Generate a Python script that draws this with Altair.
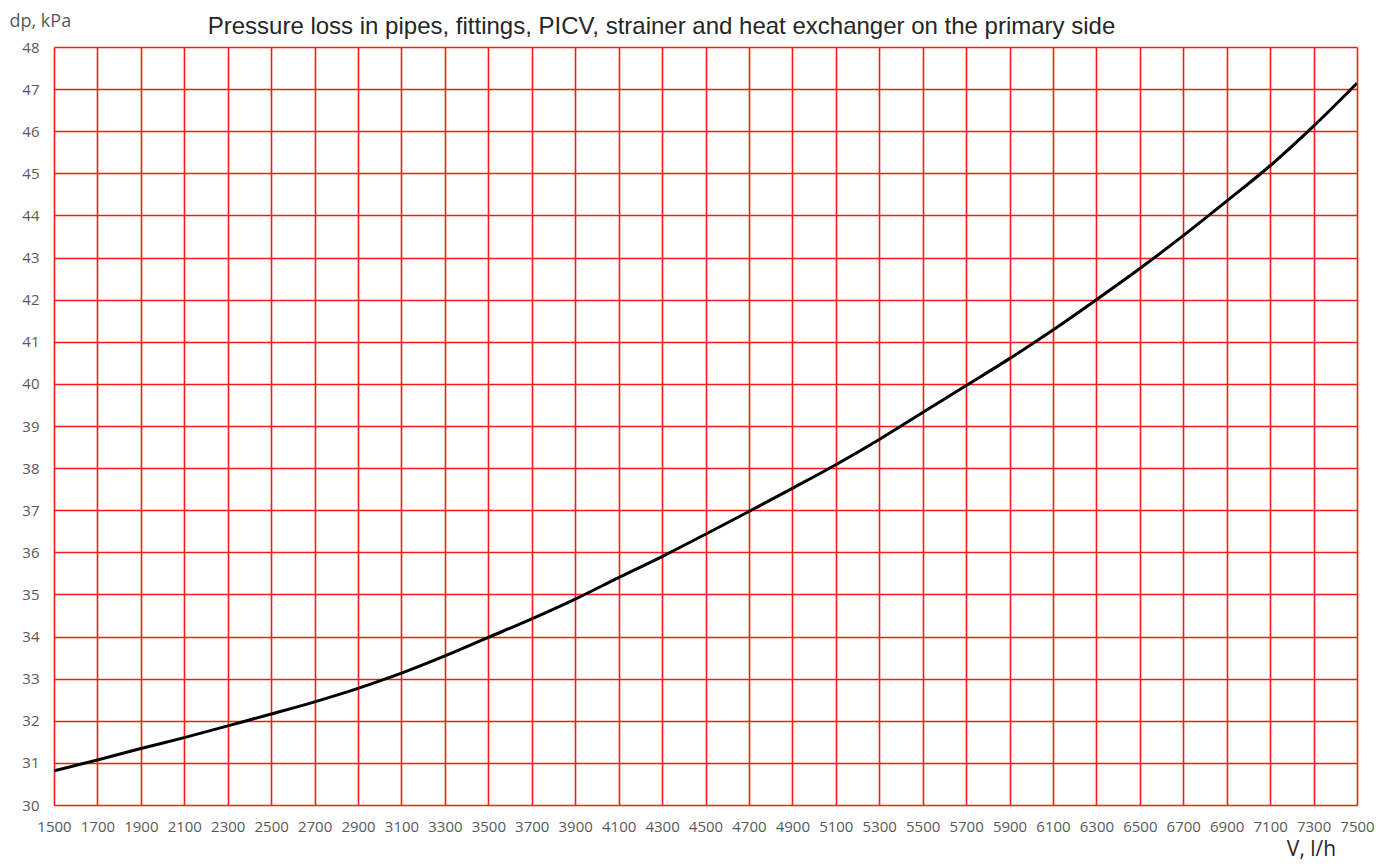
import altair as alt
import pandas as pd

flow = [1500, 1700, 1900, 2100, 2300, 2500, 2700, 2900, 3100, 3300, 3500,
        3700, 3900, 4100, 4300, 4500, 4700, 4900, 5100, 5300, 5500, 5700,
        5900, 6100, 6300, 6500, 6700, 6900, 7100, 7300, 7500]
dp = [30.81, 31.07, 31.34, 31.60, 31.88, 32.16, 32.45, 32.77, 33.13, 33.54, 33.98,
      34.42, 34.89, 35.40, 35.90, 36.43, 36.97, 37.52, 38.08, 38.68, 39.32, 39.96,
      40.60, 41.28, 42.00, 42.74, 43.52, 44.34, 45.18, 46.12, 47.14]
x_ticks = list(range(1500, 7501, 200))
y_ticks = list(range(30, 49, 1))

df = pd.DataFrame({"V": flow, "dp": dp})

chart = alt.Chart(df).mark_line(
    color="black", strokeWidth=3, interpolate="monotone", clip=True
).encode(
    x=alt.X("V:Q", scale=alt.Scale(domain=[1500, 7500], nice=False, zero=False),
            axis=alt.Axis(values=x_ticks, title="V, l/h", format="d",
                          labelFont="Open Sans", labelFontSize=15, labelColor="#595959",
                          labelPadding=14, ticks=False, domain=False,
                          labelFlush=False, labelBound=False,
                          grid=True, gridColor="#ff1a1a", gridWidth=1.6,
                          labelOverlap=False,
                          titleFont="Open Sans", titleFontSize=21, titleFontWeight="normal",
                          titleColor="#262626", titleX=1257, titleY=50,
                          titleAlign="center", titleBaseline="alphabetic")),
    y=alt.Y("dp:Q", scale=alt.Scale(domain=[30, 48], nice=False, zero=False),
            axis=alt.Axis(values=y_ticks, title="dp, kPa", format="d",
                          labelFont="Open Sans", labelFontSize=15, labelColor="#595959",
                          labelPadding=15, ticks=False, domain=False,
                          labelFlush=False, labelBound=False,
                          grid=True, gridColor="#ff1a1a", gridWidth=1.6,
                          labelOverlap=False,
                          titleFont="Open Sans", titleFontSize=18, titleFontWeight="normal",
                          titleColor="#595959", titleAngle=0, titleX=-45, titleY=-21,
                          titleAlign="left", titleBaseline="alphabetic")),
).properties(
    width=1303,
    height=758,
    title=alt.TitleParams(
        "Pressure loss in pipes, fittings, PICV, strainer and heat exchanger on the primary side",
        font="Liberation Sans", fontSize=24, fontWeight="normal", color="#262626",
        anchor="middle", dx=-44, offset=-27,
    ),
    padding={"left": 46, "top": 39, "right": 20, "bottom": 56},
    autosize=alt.AutoSizeParams(type="none"),
).configure_view(
    stroke="#ff0000", strokeWidth=3.5
).configure(background="white")

chart.save("out.html", embed_options={"renderer": "svg", "actions": False})
